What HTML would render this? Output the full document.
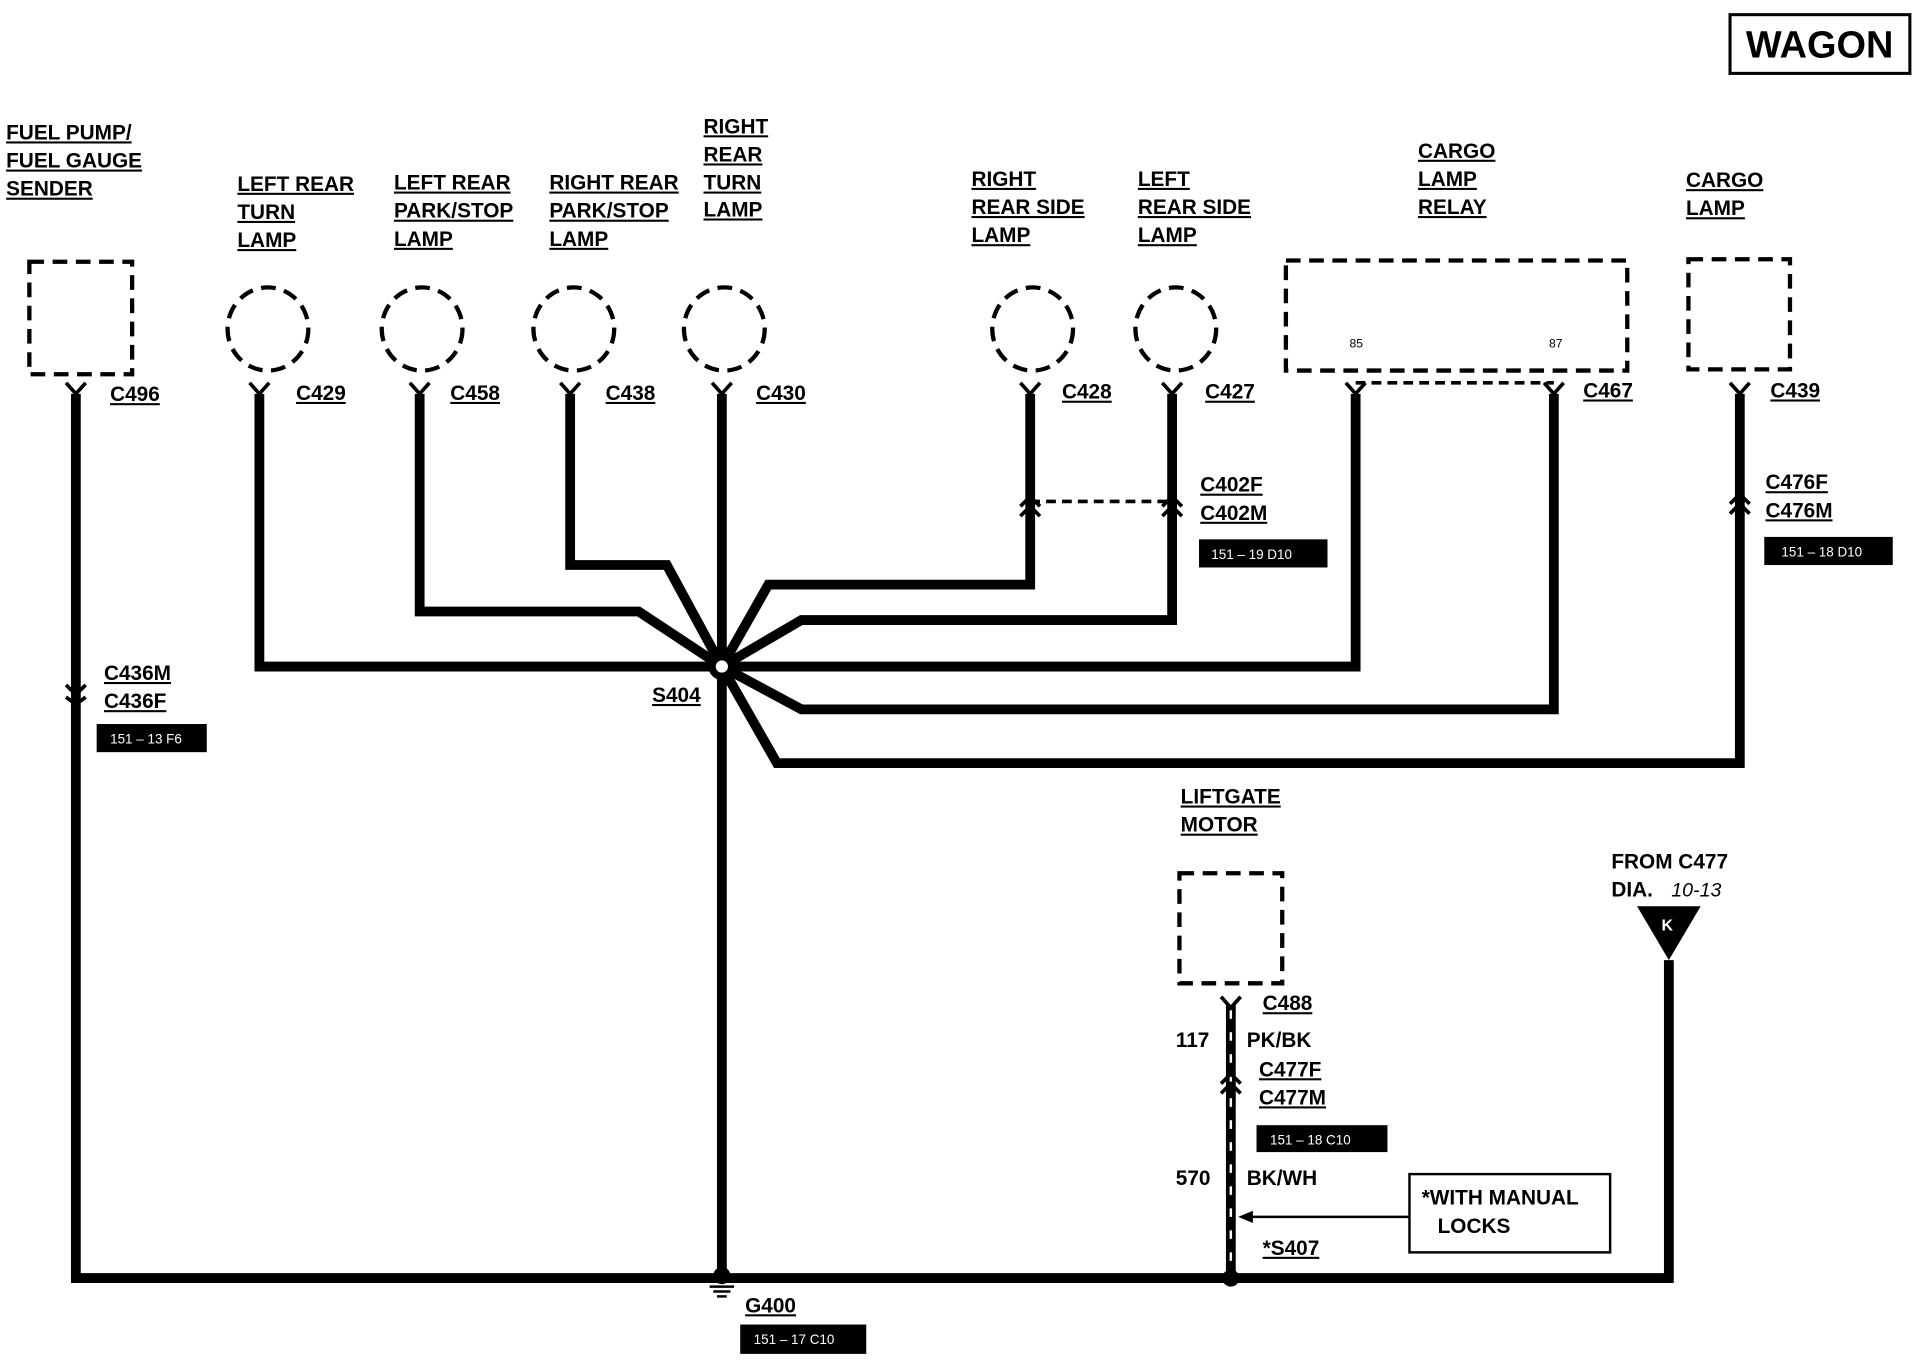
<!DOCTYPE html>
<html><head><style>
html,body{margin:0;padding:0;background:#fff;}
svg{display:block}
text{font-family:"Liberation Sans",Arial,sans-serif;font-weight:bold;fill:#000;}
.l{font-size:17px;text-decoration:underline;}
.n{font-size:17px;}
.b{font-size:11px;fill:#fff;font-weight:normal;}
.w{fill:none;stroke:#000;stroke-width:8;stroke-linejoin:miter;}
.d{fill:none;stroke:#000;stroke-width:3.5;stroke-dasharray:12 7;}
.c{fill:none;stroke:#000;stroke-width:3;}
</style></head><body>
<svg width="1916" height="1360" viewBox="0 0 1566 1112" preserveAspectRatio="none">
<rect x="0" y="0" width="1566" height="1112" fill="#fff"/>
<!-- WAGON -->
<rect x="1414" y="12" width="147" height="48" fill="none" stroke="#000" stroke-width="2.5"/>
<text x="1427" y="47" style="font-size:31px">WAGON</text>

<!-- component labels -->
<text class="l" x="5" y="114">FUEL PUMP/</text>
<text class="l" x="5" y="137">FUEL GAUGE</text>
<text class="l" x="5" y="160">SENDER</text>
<text class="l" x="194" y="156">LEFT REAR</text>
<text class="l" x="194" y="179">TURN</text>
<text class="l" x="194" y="202">LAMP</text>
<text class="l" x="322" y="155">LEFT REAR</text>
<text class="l" x="322" y="178">PARK/STOP</text>
<text class="l" x="322" y="201">LAMP</text>
<text class="l" x="449" y="155">RIGHT REAR</text>
<text class="l" x="449" y="178">PARK/STOP</text>
<text class="l" x="449" y="201">LAMP</text>
<text class="l" x="575" y="109">RIGHT</text>
<text class="l" x="575" y="132">REAR</text>
<text class="l" x="575" y="155">TURN</text>
<text class="l" x="575" y="177">LAMP</text>
<text class="l" x="794" y="152">RIGHT</text>
<text class="l" x="794" y="175">REAR SIDE</text>
<text class="l" x="794" y="198">LAMP</text>
<text class="l" x="930" y="152">LEFT</text>
<text class="l" x="930" y="175">REAR SIDE</text>
<text class="l" x="930" y="198">LAMP</text>
<text class="l" x="1159" y="129">CARGO</text>
<text class="l" x="1159" y="152">LAMP</text>
<text class="l" x="1159" y="175">RELAY</text>
<text class="l" x="1378" y="153">CARGO</text>
<text class="l" x="1378" y="176">LAMP</text>
<text class="l" x="965" y="657">LIFTGATE</text>
<text class="l" x="965" y="680">MOTOR</text>

<!-- components -->
<rect class="d" x="24" y="214" width="84" height="92"/>
<ellipse class="d" cx="219" cy="269" rx="33" ry="34"/>
<ellipse class="d" cx="345" cy="269" rx="33" ry="34"/>
<ellipse class="d" cx="469" cy="269" rx="33" ry="34"/>
<ellipse class="d" cx="592" cy="269" rx="33" ry="34"/>
<ellipse class="d" cx="844" cy="269" rx="33" ry="34"/>
<ellipse class="d" cx="961" cy="269" rx="33" ry="34"/>
<rect class="d" x="1051" y="213" width="279" height="90"/>
<text x="1103" y="284" style="font-size:10px;font-weight:normal">85</text>
<text x="1266" y="284" style="font-size:10px;font-weight:normal">87</text>
<rect class="d" x="1380" y="212" width="83" height="90"/>
<rect class="d" x="964" y="714" width="84" height="90"/>
<line class="c" x1="1108" y1="313" x2="1270" y2="313" stroke-dasharray="8 5"/>
<line class="c" x1="842" y1="410" x2="958" y2="410" stroke-dasharray="8 5"/>

<!-- wires -->
<polyline class="w" points="62,322 62,1045 1364,1045 1364,785"/>
<polyline class="w" points="212,322 212,545 590,545"/>
<polyline class="w" points="343,322 343,500 522,500 590,545"/>
<polyline class="w" points="466,322 466,462 545,462 590,545"/>
<line class="w" x1="590" y1="322" x2="590" y2="1045"/>
<polyline class="w" points="590,545 628,478 842,478 842,322"/>
<polyline class="w" points="590,545 655,507 958,507 958,322"/>
<polyline class="w" points="590,545 1108,545 1108,322"/>
<polyline class="w" points="590,545 655,580 1270,580 1270,322"/>
<polyline class="w" points="590,545 635,624 1422,624 1422,322"/>
<line class="w" x1="1006" y1="822" x2="1006" y2="1045"/>
<line x1="1006" y1="826" x2="1006" y2="1040" stroke="#fff" stroke-width="2" stroke-dasharray="7 11"/>

<!-- connectors at top -->
<g class="c" stroke-width="3.5">
<path d="M54,313 L62,322 L70,313"/>
<path d="M204,313 L212,322 L220,313"/>
<path d="M335,313 L343,322 L351,313"/>
<path d="M458,313 L466,322 L474,313"/>
<path d="M582,313 L590,322 L598,313"/>
<path d="M834,313 L842,322 L850,313"/>
<path d="M950,313 L958,322 L966,313"/>
<path d="M1100,313 L1108,322 L1116,313"/>
<path d="M1262,313 L1270,322 L1278,313"/>
<path d="M1414,313 L1422,322 L1430,313"/>
<path d="M998,815 L1006,824 L1014,815"/>
<!-- inline -->
<path d="M54,560 L62,568 L70,560"/><path d="M54,570 L62,576 L70,570"/>
<path d="M834,414 L842,406 L850,414"/><path d="M834,422 L842,414 L850,422"/>
<path d="M950,414 L958,406 L966,414"/><path d="M950,422 L958,414 L966,422"/>
<path d="M1414,412 L1422,404 L1430,412"/><path d="M1414,420 L1422,412 L1430,420"/>
<path d="M998,886 L1006,878 L1014,886"/><path d="M998,894 L1006,886 L1014,894"/>
</g>

<!-- S404 -->
<circle cx="590" cy="545" r="11" fill="#000"/>
<circle cx="590" cy="545" r="5" fill="#fff"/>
<!-- S407 dot -->
<circle cx="1006" cy="1045" r="7" fill="#000"/>
<!-- G400 -->
<circle cx="590" cy="1043" r="7" fill="#000"/>
<line x1="580" y1="1052" x2="600" y2="1052" stroke="#000" stroke-width="2"/>
<line x1="583" y1="1056" x2="597" y2="1056" stroke="#000" stroke-width="2"/>
<line x1="586" y1="1060" x2="594" y2="1060" stroke="#000" stroke-width="2"/>
<!-- triangle K -->
<polygon points="1338,741 1390,741 1364,785" fill="#000"/>
<text x="1358" y="761" style="font-size:13px;fill:#fff">K</text>

<!-- connector labels -->
<text class="l" x="90" y="328">C496</text>
<text class="l" x="242" y="327">C429</text>
<text class="l" x="368" y="327">C458</text>
<text class="l" x="495" y="327">C438</text>
<text class="l" x="618" y="327">C430</text>
<text class="l" x="868" y="326">C428</text>
<text class="l" x="985" y="326">C427</text>
<text class="l" x="1294" y="325">C467</text>
<text class="l" x="1447" y="325">C439</text>
<text class="l" x="981" y="402">C402F</text>
<text class="l" x="981" y="425">C402M</text>
<text class="l" x="1443" y="400">C476F</text>
<text class="l" x="1443" y="423">C476M</text>
<text class="l" x="85" y="556">C436M</text>
<text class="l" x="85" y="579">C436F</text>
<text class="l" x="533" y="574">S404</text>
<text class="l" x="1032" y="826">C488</text>
<text class="n" x="961" y="856">117</text>
<text class="n" x="1019" y="856">PK/BK</text>
<text class="l" x="1029" y="880">C477F</text>
<text class="l" x="1029" y="903">C477M</text>
<text class="n" x="961" y="969">570</text>
<text class="n" x="1019" y="969">BK/WH</text>
<text class="l" x="1032" y="1026">*S407</text>
<text class="l" x="609" y="1073">G400</text>
<text class="n" x="1317" y="710">FROM C477</text>
<text class="n" x="1317" y="733">DIA.</text>
<text x="1366" y="733" style="font-size:16px;font-style:italic;font-weight:normal">10-13</text>

<!-- black boxes -->
<rect x="79" y="592" width="90" height="23" fill="#000"/><text class="b" x="90" y="608">151 – 13 F6</text>
<rect x="980" y="441" width="105" height="23" fill="#000"/><text class="b" x="990" y="457">151 – 19 D10</text>
<rect x="1442" y="439" width="105" height="23" fill="#000"/><text class="b" x="1456" y="455">151 – 18 D10</text>
<rect x="1027" y="920" width="107" height="22" fill="#000"/><text class="b" x="1038" y="936">151 – 18 C10</text>
<rect x="605" y="1083" width="103" height="24" fill="#000"/><text class="b" x="616" y="1099">151 – 17 C10</text>

<!-- manual locks -->
<rect x="1152" y="960" width="164" height="64" fill="#fff" stroke="#000" stroke-width="2"/>
<text class="n" x="1162" y="985">*WITH  MANUAL</text>
<text class="n" x="1175" y="1008">LOCKS</text>
<line x1="1152" y1="995" x2="1020" y2="995" stroke="#000" stroke-width="2"/>
<polygon points="1012,995 1024,990 1024,1000" fill="#000"/>
</svg>
</body></html>
